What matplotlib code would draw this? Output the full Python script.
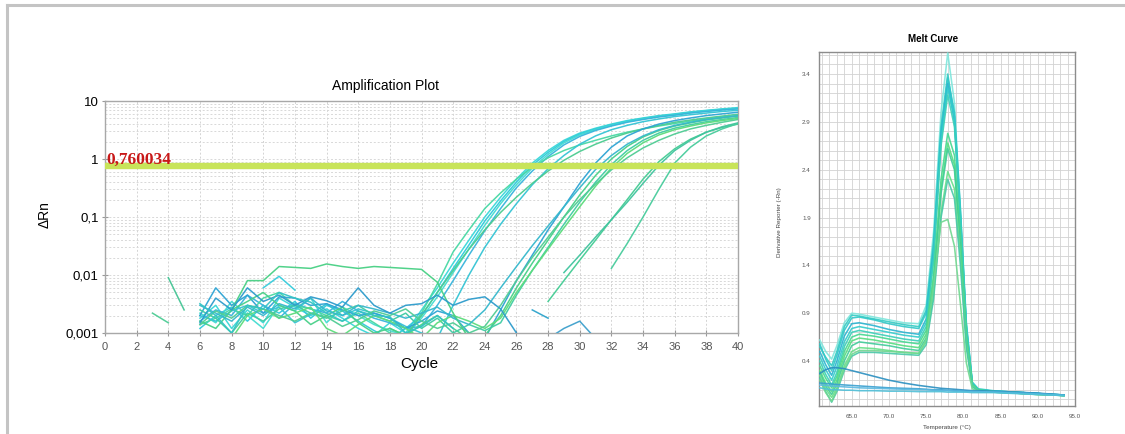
import numpy as np
import matplotlib

matplotlib.use("Agg")
import matplotlib.pyplot as plt
from matplotlib.lines import Line2D
from matplotlib.ticker import MultipleLocator, LogLocator, NullFormatter

plt.rcParams["font.family"] = ["Liberation Sans", "DejaVu Sans"]

# ---- amplification data (delta Rn per cycle) -------------------------------
threshold = 0.760034

amp_first_cycle = [6, 6, 6, 6, 6, 6, 18, 6, 6, 6, 8, 6, 6, 28, 29, 32,
                   8, 10, 6, 6, 28, 3, 4, 27]
amp_values = [
    # early group
    [.0018, .0030, .0012, .0025, .0015, .0040, .0028, .0020, .0026, .0018, .0012, .0009, .0015, .0010,
     .0025, .006, .016, .04, .10, .22, .45, .85, 1.4, 2.1, 2.8, 3.4, 4.0, 4.6, 5.1, 5.6, 6.0, 6.5, 6.9, 7.3, 7.7],
    [.0012, .0020, .0028, .0016, .0030, .0022, .0035, .0018, .0030, .0024, .0016, .0011, .0008, .0012,
     .0020, .0050, .013, .033, .085, .19, .40, .78, 1.3, 2.0, 2.7, 3.3, 3.9, 4.5, 5.0, 5.5, 5.9, 6.4, 6.8, 7.2, 7.5],
    [.0022, .0015, .0035, .0020, .0012, .0030, .0024, .0040, .0015, .0028, .0020, .0014, .0011, .0009,
     .0018, .0042, .011, .028, .072, .17, .36, .70, 1.2, 1.9, 2.6, 3.2, 3.8, 4.4, 4.9, 5.4, 5.8, 6.3, 6.7, 7.1, 7.4],
    [.0016, .0025, .0020, .0045, .0030, .0018, .0032, .0026, .0022, .0035, .0024, .0018, .0015, .0012,
     .0013, .0030, .008, .022, .058, .14, .32, .62, 1.1, 1.75, 2.45, 3.1, 3.7, 4.3, 4.8, 5.3, 5.7, 6.2, 6.6, 7.0, 7.3],
    [.0014, .0018, .0026, .0020, .0040, .0050, .0030, .0026, .0020, .0016, .0022, .0015, .0010, .0009,
     .0022, .007, .025, .06, .14, .26, .45, .72, 1.05, 1.40, 1.75, 2.1, 2.5, 2.9, 3.3, 3.7, 4.1, 4.5, 4.9, 5.3, 5.6],
    [.0020, .0016, .0024, .0030, .0022, .0028, .0015, .0021, .0032, .0020, .0026, .0022, .0018, .0013, .0010, .0008,
     .0030, .010, .030, .075, .17, .36, .68, 1.15, 1.8, 2.5, 3.2, 3.8, 4.4, 4.9, 5.4, 5.8, 6.2, 6.6, 6.9],
    [.0012, .0009, .0020, .0050, .012, .028, .06, .12, .22, .38, .62, .95, 1.35, 1.8, 2.3, 2.8, 3.3, 3.8,
     4.3, 4.7, 5.1, 5.5, 5.9],
    # middle group
    [.0020, .0060, .0030, .0045, .0022, .0042, .0040, .0030, .0032, .0025, .0020, .0022, .0018, .0012, .0016,
     .0024, .0020, .0010, .0008, .0025, .008, .022, .06, .15, .38, .85, 1.6, 2.5, 3.3, 4.0, 4.6, 5.1, 5.6, 6.0, 6.4],
    [.0016, .0012, .0025, .0035, .0050, .0030, .0024, .0014, .0020, .0028, .0015, .0010, .0012, .0009, .0014,
     .0020, .0012, .0008, .0009, .002, .006, .016, .04, .10, .24, .52, 1.0, 1.65, 2.4, 3.1, 3.7, 4.2, 4.7, 5.1, 5.5],
    [.0025, .0018, .0010, .0022, .0016, .0026, .0030, .0022, .0018, .0024, .0030, .0020, .0016, .0022, .0012,
     .0018, .0010, .0014, .0011, .0015, .0045, .012, .03, .075, .18, .40, .80, 1.4, 2.1, 2.8, 3.4, 3.9, 4.4, 4.8, 5.2],
    [.0008, .0020, .0026, .0018, .0022, .0028, .0012, .0009, .0014, .0020, .0016, .0012, .0008, .0015, .0020,
     .0016, .0012, .0018, .005, .012, .028, .065, .15, .34, .70, 1.25, 1.9, 2.6, 3.2, 3.7, 4.2, 4.6, 5.0],
    [.0030, .0022, .0016, .0028, .0020, .0032, .0026, .0040, .0024, .0020, .0030, .0026, .0022, .0018, .0022,
     .0028, .0018, .0014, .0025, .006, .014, .032, .07, .15, .32, .66, 1.15, 1.8, 2.5, 3.2, 3.8, 4.3, 4.8, 5.2, 5.6],
    [.0014, .0024, .0018, .0030, .0026, .0020, .0016, .0022, .0019, .0013, .0017, .0024, .0020, .0026, .0016,
     .0012, .0015, .0010, .0013, .003, .008, .02, .045, .10, .20, .37, .65, 1.05, 1.55, 2.1, 2.7, 3.3, 3.8, 4.3, 4.8],
    # late group
    [.0035, .008, .018, .04, .09, .2, .45, .9, 1.5, 2.2, 2.9, 3.5, 4.0],
    [.011, .022, .045, .09, .18, .38, .78, 1.4, 2.1, 2.9, 3.6, 4.2],
    [.013, .035, .10, .30, .85, 1.6, 2.5, 3.3, 4.1],
    # background only
    [.0025, .0080, .0080, .0140, .0135, .0130, .0155, .0140, .0130, .0140, .0135, .0130, .0125, .0075, .0022, .0008],
    [.006, .0095, .0055],
    [.0015, .0040, .0025, .0060, .0035, .0045, .0030, .0042, .0036, .0028, .0060, .0030, .0022, .0030, .0032,
     .0045, .0030, .0038, .0042, .0026, .0010],
    [.0032, .0020, .0010, .0030, .0026, .0050, .0040, .0034, .0022, .0016, .0024, .0020, .0019, .0010, .0013,
     .0020, .0012],
    [.0008, .0012, .0016, .0008],
    [.0022, .0015],
    [.009, .0025],
    [.0025, .0018],
]
amp_colors = ["#3ad8d8", "#30cadc", "#44dcd0", "#38b4dc", "#48d8a4", "#34c4d4", "#4ccc90",
              "#2ea4d4", "#48d088", "#40cca4", "#5cdc7c", "#36b8cc", "#50cc94",
              "#44cc94", "#40c49e", "#48cc9c",
              "#48d084", "#36ccdc", "#2e9ccc", "#34c4c4", "#3ea0cc", "#4ccc94", "#44c494", "#2ea4cc"]

# ---- melt data (derivative reporter vs temperature) ------------------------
melt_temp = [60.7, 61.5, 62.3, 63.0, 64.0, 65.0, 66.0, 68.0, 70.0, 72.0, 74.0, 75.0,
             76.0, 77.0, 77.9, 78.8, 79.6, 80.4, 81.2, 82.0, 84.0, 87.0, 90.0, 93.5]
melt_values = [
    [.62, .50, .42, .56, .80, .90, .89, .86, .83, .80, .79, .98, 1.75, 3.00, 3.62, 3.10, 1.95, .78, .17, .10, .085, .075, .06, .045],
    [.55, .44, .35, .50, .76, .88, .87, .84, .81, .78, .76, .93, 1.65, 2.85, 3.40, 2.95, 1.90, .75, .16, .10, .085, .075, .06, .045],
    [.58, .42, .30, .46, .72, .85, .86, .83, .79, .76, .74, .90, 1.60, 2.80, 3.36, 3.00, 2.00, .80, .18, .11, .09, .075, .06, .045],
    [.50, .36, .25, .40, .66, .79, .80, .77, .73, .70, .68, .84, 1.55, 2.75, 3.30, 2.90, 1.85, .72, .16, .10, .085, .075, .06, .04],
    [.45, .31, .20, .34, .60, .74, .76, .73, .70, .67, .65, .80, 1.50, 2.70, 3.25, 2.95, 1.95, .76, .17, .10, .085, .07, .06, .04],
    [.40, .26, .15, .28, .55, .70, .72, .69, .66, .63, .61, .76, 1.45, 2.65, 3.18, 2.85, 1.90, .74, .16, .10, .08, .07, .055, .04],
    [.35, .22, .12, .24, .50, .65, .68, .66, .63, .60, .58, .72, 1.30, 2.30, 2.78, 2.55, 1.70, .66, .15, .10, .08, .07, .055, .04],
    [.30, .17, .08, .20, .45, .61, .64, .62, .59, .56, .54, .68, 1.25, 2.20, 2.68, 2.45, 1.65, .64, .15, .09, .08, .07, .055, .04],
    [.28, .14, .05, .16, .40, .56, .60, .58, .56, .53, .51, .64, 1.20, 2.15, 2.62, 2.40, 1.60, .62, .14, .09, .08, .065, .055, .04],
    [.25, .11, .02, .12, .35, .50, .54, .53, .51, .49, .48, .60, 1.10, 1.95, 2.38, 2.20, 1.50, .58, .14, .09, .075, .065, .05, .04],
    [.22, .08, -.03, .08, .30, .45, .49, .49, .48, .47, .46, .57, 1.05, 1.90, 2.30, 2.10, 1.40, .54, .13, .09, .075, .065, .05, .04],
    [.20, .07, -.02, .10, .32, .47, .51, .51, .50, .49, .48, .62, 1.20, 1.85, 1.88, 1.60, 1.00, .38, .11, .08, .075, .065, .05, .04],
    [.27, .31, .33, .33, .32, .30, .28, .24, .20, .17, .145, .135, .125, .115, .11, .105, .10, .095, .09, .09, .085, .075, .065, .045],
    [.17, .165, .16, .155, .15, .145, .14, .13, .12, .115, .11, .105, .10, .10, .095, .09, .09, .085, .085, .08, .08, .07, .06, .045],
    [.15, .145, .14, .135, .13, .125, .12, .115, .11, .105, .10, .10, .095, .09, .09, .085, .085, .08, .08, .08, .075, .065, .055, .04],
    [.12, .11, .10, .10, .095, .095, .09, .09, .085, .085, .08, .08, .08, .08, .075, .075, .075, .075, .07, .07, .07, .06, .05, .04],
]
melt_colors = ["#7ee6dc", "#33ccc4", "#30c8c8", "#2ab4d0", "#33cccc", "#3acfb8",
               "#44d890", "#55dd80", "#40cc99", "#66e088", "#48c8a8", "#70d890",
               "#2a8fc0", "#3aa0d0", "#5ab8e0", "#50c0d8"]

amp_yticks = [0.001, 0.01, 0.1, 1, 10]
amp_yticklabels = ["0,001", "0,01", "0,1", "1", "10"]
melt_yticks = [0.4, 0.9, 1.4, 1.9, 2.4, 2.9, 3.4]
melt_xticks = [65, 70, 75, 80, 85, 90, 95]

W, H = 1125, 434
fig = plt.figure(figsize=(W / 100, H / 100), dpi=100)
fig.patch.set_facecolor("white")

# page frame: top and left rule
fig.add_artist(Line2D([7 / W, 1], [1 - 5 / H, 1 - 5 / H], color="#c4c4c4", lw=2.2))
fig.add_artist(Line2D([7 / W, 7 / W], [0, 1 - 5 / H], color="#c4c4c4", lw=2.2))

# ---- amplification plot ----------------------------------------------------
ax = fig.add_axes([105 / W, 1 - 333 / H, 633 / W, 232 / H])
ax.set_yscale("log")
ax.set_xlim(0, 40)
ax.set_ylim(0.001, 10)

for first, vals, col in zip(amp_first_cycle, amp_values, amp_colors):
    cyc = np.arange(first, first + len(vals))
    ax.plot(cyc, vals, color=col, lw=1.1, alpha=0.95, zorder=3)

ax.axhline(threshold, color="#c8e45a", lw=4.6, zorder=4)
ax.annotate(f"{threshold:.6f}".replace(".", ","), xy=(0, threshold), xytext=(1, 6),
            textcoords="offset pixels", ha="left", va="center", color="#c81818",
            fontsize=12.5, fontweight="bold", family=["Liberation Serif", "DejaVu Serif"], zorder=6)

ax.set_xticks(range(0, 41, 2))
ax.set_yticks(amp_yticks)
ax.set_yticklabels(amp_yticklabels)
ax.yaxis.set_minor_locator(LogLocator(base=10, subs=np.arange(2, 10)))
ax.yaxis.set_minor_formatter(NullFormatter())
ax.grid(True, which="major", axis="x", color="#d4d4d4", lw=0.7, dashes=(2, 2))
ax.grid(True, which="both", axis="y", color="#d8d8d8", lw=0.7, dashes=(2, 2))
ax.tick_params(axis="x", labelsize=8, labelcolor="#555555", direction="inout", length=5,
               color="#999999", pad=4)
ax.tick_params(axis="y", which="major", labelsize=9.5, direction="inout", length=5,
               color="#999999", pad=2)
ax.tick_params(axis="y", which="minor", length=0)
for s in ax.spines.values():
    s.set_color("#a8a8a8")
    s.set_linewidth(1.0)
ax.set_axisbelow(True)

fig.text(385 / W, 1 - 86 / H, "Amplification Plot", ha="center", va="center", fontsize=10)
fig.text(419 / W, 1 - 364 / H, "Cycle", ha="center", va="center", fontsize=11)
fig.text(45 / W, 1 - 215 / H, "ΔRn", ha="center", va="center", fontsize=10, rotation=90)

# ---- melt curve --------------------------------------------------------------
mx = fig.add_axes([819 / W, 1 - 406 / H, 256 / W, 354 / H])
mx.set_xlim(60.6, 95.0)
mx.set_ylim(-0.07, 3.63)
for vals, col in zip(melt_values, melt_colors):
    mx.plot(melt_temp, vals, color=col, lw=1.15, alpha=0.9, zorder=3)

mx.set_xticks(melt_xticks)
mx.set_xticklabels([f"{t:.1f}" for t in melt_xticks])
mx.set_yticks(melt_yticks)
mx.set_yticklabels([f"{v:.1f}" for v in melt_yticks])
mx.xaxis.set_minor_locator(MultipleLocator(1))
mx.yaxis.set_minor_locator(MultipleLocator(0.1))
mx.grid(True, which="both", color="#d2d2d2", lw=0.6)
mx.tick_params(which="both", length=0, labelsize=4.5, labelcolor="#555555", pad=6)
for s in mx.spines.values():
    s.set_color("#8c8c8c")
    s.set_linewidth(1.0)
mx.set_axisbelow(True)

fig.text(933 / W, 1 - 39 / H, "Melt Curve", ha="center", va="center", fontsize=7,
         fontweight="bold")
fig.text(947 / W, 1 - 428 / H, "Temperature (°C)", ha="center", va="center", fontsize=4.5,
         color="#444444")
fig.text(779 / W, 1 - 222 / H, "Derivative Reporter (-Rn)", ha="center", va="center",
         fontsize=4.5, rotation=90, color="#444444")

fig.savefig("out.png", dpi=100, facecolor="white")
